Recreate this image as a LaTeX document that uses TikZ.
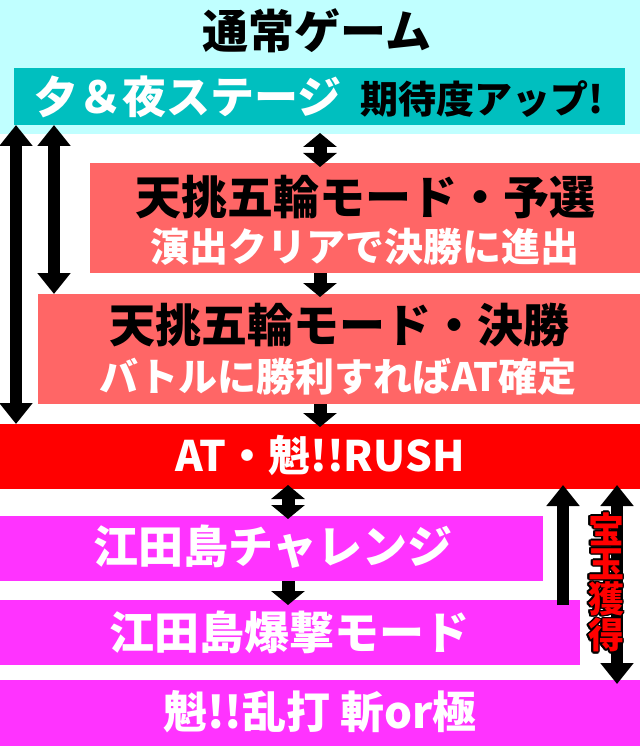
\documentclass[tikz,border=0pt]{standalone}
\usepackage{fontspec}
\setmainfont{Noto Sans CJK JP}
\usepackage{contour}
\usepackage{tikz}
\usetikzlibrary{arrows.meta, positioning, calc}

\definecolor{normalbg}{RGB}{192,255,255}
\definecolor{stagecol}{RGB}{0,191,191}
\definecolor{modecol}{RGB}{255,102,102}
\definecolor{rushcol}{RGB}{255,0,0}
\definecolor{edacol}{RGB}{255,51,255}
\contourlength{1.2pt}
\contournumber{12}

\begin{document}
\begin{tikzpicture}[
                                        x=1pt, y=-1pt,
                                        box/.style={rectangle, inner sep=0pt, outer sep=0pt, anchor=north west},
                                        txt/.style={inner sep=0pt, font=\bfseries\fontsize{#1}{#1}\selectfont},
                                        fat/.style={line width=12pt, >={Triangle[length=21pt, width=32pt]}},
                                        short/.style={line width=13pt, >={Triangle[length=14pt, width=33pt]}}
                                ]
                                \useasboundingbox (0,0) rectangle (640,746);
                                % boxes
                                \node [box, fill=normalbg, minimum width=640pt, minimum height=134pt] (bg) at (0,0) {};
                                \node [box, fill=stagecol, minimum width=611pt, minimum height=57pt] (stage) at (14,68) {};
                                \node [box, fill=modecol, minimum width=550pt, minimum height=110pt] (prelim) at (90,163) {};
                                \node [box, fill=modecol, minimum width=602pt, minimum height=110pt] (final) at (38,294) {};
                                \node [box, fill=rushcol, minimum width=640pt, minimum height=65pt] (rush) at (0,424) {};
                                \node [box, fill=edacol, minimum width=543pt, minimum height=65pt] (chall) at (0,516) {};
                                \node [box, fill=edacol, minimum width=580pt, minimum height=65pt] (bomb) at (0,600) {};
                                \node [box, fill=edacol, minimum width=640pt, minimum height=66pt] (rampage) at (0,680) {};
                                % texts
                                \node [txt=46] (title) at (317,31) {通常ゲーム};
                                \node [txt=44, text=white] (stagel) at (188,97) {夕＆夜ステージ};
                                \node [txt=38] (stager) at (482,99) {期待度アップ!};
                                \node [txt=46] (prelima) at (365,197) {天挑五輪モード・予選};
                                \node [txt=39, text=white] (prelimb) at (365,247) {演出クリアで決勝に進出};
                                \node [txt=46] (finala) at (339,325) {天挑五輪モード・決勝};
                                \node [txt=39, text=white] (finalb) at (338,377) {バトルに勝利すればAT確定};
                                \node [txt=42, text=white] (rusht) at (320,455) {AT・魁!!RUSH};
                                \node [txt=45, text=white] (challt) at (273,547) {江田島チャレンジ};
                                \node [txt=45, text=white] (bombt) at (289,632) {江田島爆撃モード};
                                \node [txt=44, text=white] (rampaget) at (320,712) {魁!!乱打 斬or極};
                                % arrows
                                \draw [fat, <->] ([xshift=16pt]rush.north west |- stage.south) -- ([xshift=16pt]rush.north west);
                                \draw [fat, <->] ([xshift=54pt]rush.north west |- stage.south) -- ([xshift=54pt]rush.north west |- final.north);
                                \draw [short, <->, shorten <=-1pt, shorten >=-4pt] (bg.south) -- (bg.south |- prelim.north);
                                \draw [short, ->, shorten >=-3pt] (bg.south |- prelim.south) -- (bg.south |- final.north);
                                \draw [short, ->, shorten >=-3pt] (bg.south |- final.south) -- (bg.south |- rush.north);
                                \draw [short, <->, shorten <=-4pt, shorten >=-3pt] ([xshift=288pt]rush.south west) -- ([xshift=288pt]rush.south west |- chall.north);
                                \draw [short, ->, shorten >=-5pt] ([xshift=288pt]rush.south west |- chall.south) -- ([xshift=288pt]rush.south west |- bomb.north);
                                \draw [fat, ->, shorten <=-5pt, shorten >=-4pt] ([xshift=563pt]rush.south west |- bomb.north) -- ([xshift=563pt]rush.south west);
                                \draw [fat, <->, shorten <=-4pt, shorten >=-4pt] ([xshift=617pt]rush.south west) -- ([xshift=617pt]rush.south west |- rampage.north);
                                \node [inner sep=0pt, font=\bfseries\fontsize{36}{34}\selectfont, text=rushcol, align=center] (gem) at (606,583) {\contour{black}{宝}\\\contour{black}{玉}\\\contour{black}{獲}\\\contour{black}{得}};
                        \end{tikzpicture}
\end{document}
